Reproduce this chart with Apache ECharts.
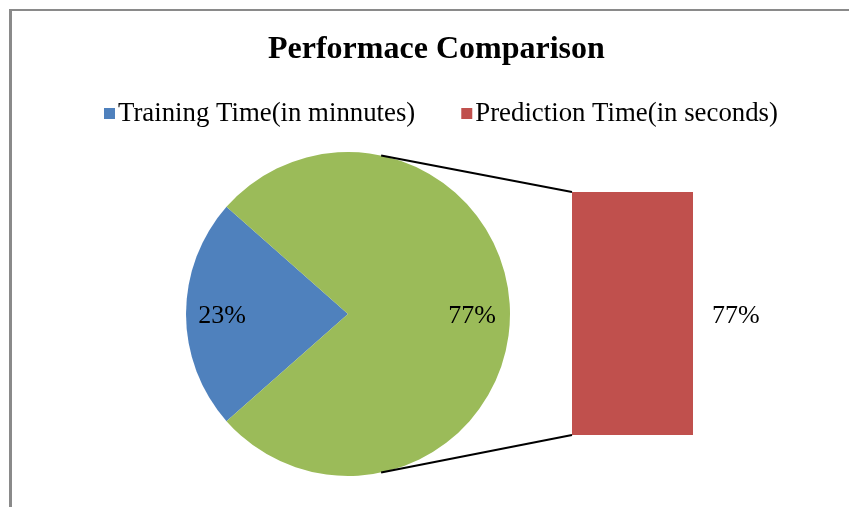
<!DOCTYPE html>
<html>
<head>
<meta charset="utf-8">
<script src="https://cdn.jsdelivr.net/npm/echarts@6/dist/echarts.min.js"></script>
<style>
html,body{margin:0;padding:0;background:#fff;}
#chart{width:849px;height:507px;}
</style>
</head>
<body>
<div id="chart"></div>
<script>
// ---- data ----
const titleText = 'Performace Comparison';
const legendNames = ['Training Time(in minnutes)', 'Prediction Time(in seconds)'];
const pieNames = ['Training Time(in minnutes)', 'Other'];
const pieValues = [23, 77];
const barCategories = ['Prediction Time(in seconds)'];
const barValues = [77];
const barLabels = ['77%'];

// ---- style / layout ----
const FONT = '"Liberation Serif", "Times New Roman", serif';
const colors = { blue: '#4F81BD', green: '#9BBB59', red: '#C0504D' };
const pieCenter = [348, 314];
const pieRadius = 162;
const pieStart = 180 + (pieValues[0] / (pieValues[0] + pieValues[1])) * 180;
const labelDx = [-21, 20];

const chart = echarts.init(document.getElementById('chart'), null, { renderer: 'canvas' });

const option = {
  backgroundColor: '#fff',
  animation: false,
  title: {
    text: titleText,
    left: 263,
    top: 29,
    textStyle: { fontFamily: FONT, fontWeight: 'bold', fontSize: 32, color: '#000' }
  },
  legend: {
    data: legendNames,
    left: 99,
    top: 95,
    icon: 'rect',
    itemWidth: 11,
    itemHeight: 11,
    itemGap: 46,
    textStyle: { fontFamily: FONT, fontSize: 26.8, color: '#000', padding: [0, 0, 0, -2] }
  },
  grid: { left: 572, width: 121, top: 192, bottom: 72, containLabel: false },
  xAxis: { type: 'category', data: barCategories, show: false },
  yAxis: { type: 'value', min: 0, max: barValues[0], show: false },
  series: [
    {
      type: 'pie',
      center: pieCenter,
      radius: pieRadius,
      startAngle: pieStart,
      clockwise: true,
      data: pieNames.map((n, i) => ({
        name: n,
        value: pieValues[i],
        itemStyle: { color: i === 0 ? colors.blue : colors.green }
      })),
      label: {
        show: true,
        position: 'inside',
        formatter: '{d}%',
        fontFamily: FONT,
        fontSize: 26,
        color: '#000'
      },
      labelLayout: function (p) { return { dx: labelDx[p.dataIndex], dy: 1 }; },
      labelLine: { show: false },
      emphasis: { disabled: true }
    },
    {
      type: 'bar',
      name: legendNames[1],
      data: barValues,
      barWidth: '100%',
      itemStyle: { color: colors.red },
      label: {
        show: true,
        position: 'right',
        distance: 19,
        offset: [0, 3],
        formatter: (p) => barLabels[p.dataIndex],
        fontFamily: FONT,
        fontSize: 26,
        color: '#000'
      },
      emphasis: { disabled: true }
    }
  ]
};
chart.setOption(option);

// connector lines from pie edge to bar corners, border lines
function drawExtras() {
  const topPt = chart.convertToPixel({ gridIndex: 0 }, [0, barValues[0]]);
  const botPt = chart.convertToPixel({ gridIndex: 0 }, [0, 0]);
  const barLeft = topPt[0] - 121 / 2;
  const ang = 78.2 * Math.PI / 180;
  const px = pieCenter[0] + pieRadius * Math.cos(ang);
  const pyTop = pieCenter[1] - pieRadius * Math.sin(ang);
  const pyBot = pieCenter[1] + pieRadius * Math.sin(ang);
  chart.setOption({
    graphic: [
      { type: 'line', shape: { x1: px, y1: pyTop, x2: barLeft, y2: topPt[1] }, style: { stroke: '#000', lineWidth: 2 }, z: 10 },
      { type: 'line', shape: { x1: px, y1: pyBot, x2: barLeft, y2: botPt[1] }, style: { stroke: '#000', lineWidth: 2 }, z: 10 },
      { type: 'line', shape: { x1: 9, y1: 10, x2: 849, y2: 10 }, style: { stroke: '#8a8a8a', lineWidth: 2 } },
      { type: 'line', shape: { x1: 10.5, y1: 9, x2: 10.5, y2: 507 }, style: { stroke: '#8a8a8a', lineWidth: 3 } }
    ]
  });
}
drawExtras();
</script>
</body>
</html>
